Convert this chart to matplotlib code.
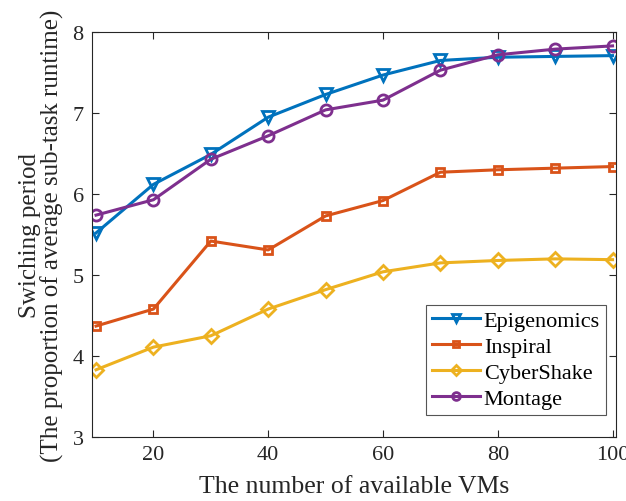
import matplotlib.pyplot as plt

# 利用可能なVM数と各ワークフローの切替周期
vms = [10, 20, 30, 40, 50, 60, 70, 80, 90, 100]
epigenomics = [5.52, 6.12, 6.49, 6.95, 7.23, 7.47, 7.65, 7.69, 7.70, 7.71]
inspiral = [4.37, 4.58, 5.42, 5.31, 5.73, 5.92, 6.27, 6.30, 6.32, 6.34]
cybershake = [3.83, 4.11, 4.25, 4.58, 4.82, 5.04, 5.15, 5.18, 5.20, 5.19]
montage = [5.74, 5.93, 6.43, 6.72, 7.04, 7.16, 7.53, 7.72, 7.79, 7.83]

plt.rcParams['font.family'] = ['Liberation Serif', 'DejaVu Serif']

fig = plt.figure(figsize=(6.26, 5.02), dpi=100)
ax = fig.add_axes([0.147, 0.1275, 0.837, 0.8065])

series = [
    ('Epigenomics', epigenomics, '#0072BD', 'v'),
    ('Inspiral', inspiral, '#D95319', 's'),
    ('CyberShake', cybershake, '#EDB120', 'D'),
    ('Montage', montage, '#7E2F8E', 'o'),
]
for name, vals, col, mk in series:
    ms = 6 if mk == 's' else (7 if mk == 'D' else 8)
    ax.plot(vms, vals, color=col, marker=mk, lw=2.2, ms=ms,
            mfc='none', mew=2.0, label=name)

ax.set_xlim(9.3, 100.6)
ax.set_ylim(3, 8)
ax.set_xticks([20, 40, 60, 80, 100])
ax.set_yticks([3, 4, 5, 6, 7, 8])
ax.tick_params(direction='in', top=True, right=True, labelsize=16, length=5,
               width=0.8, colors='#262626', pad=6)
for sp in ax.spines.values():
    sp.set_color('#262626')
    sp.set_linewidth(0.8)

ax.set_xlabel('The number of available VMs', fontsize=18.5, color='#262626', labelpad=8)
ax.set_ylabel('Swiching period\n(The proportion of average sub-task runtime)',
              fontsize=18, color='#262626', labelpad=6, linespacing=1.0)

leg = ax.legend(loc='lower right', fontsize=16, fancybox=False, framealpha=1,
                edgecolor='#555555', borderpad=0.25, labelspacing=0.25,
                handlelength=2.2, handletextpad=0.15, markerscale=0.7,
                borderaxespad=0, bbox_to_anchor=(0.98, 0.055))
leg.get_frame().set_linewidth(0.8)

fig.savefig('out.png', dpi=100)
